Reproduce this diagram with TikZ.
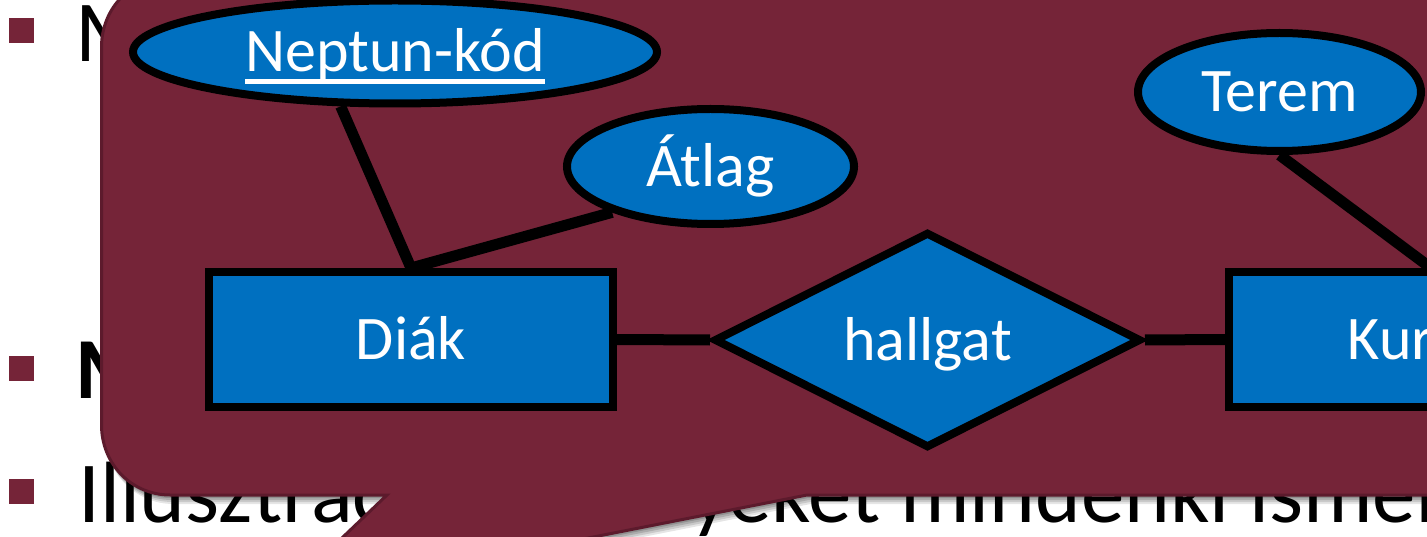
\documentclass[tikz,border=0pt]{standalone}
\usepackage{fontspec}
\setmainfont{Carlito}
\usetikzlibrary{shapes.geometric,shadows}
\definecolor{wine}{RGB}{117,36,56}
\definecolor{wineedge}{RGB}{92,26,44}
\definecolor{erblue}{RGB}{0,112,192}
\pgfdeclarelayer{back}
\pgfdeclarelayer{conn}
\pgfsetlayers{back,conn,main}
% thick underline for key attributes
\newcommand\keyul[1]{\setbox0\hbox{#1}\rlap{\rule[-12pt]{\wd0}{4.5pt}}\box0}
\tikzset{
  erbase/.style={draw=black, line width=8pt, fill=erblue, text=white,
    font=\fontsize{62pt}{70pt}\selectfont, inner sep=0pt,
    text height=46pt, text depth=6pt,
    drop shadow={shadow xshift=2pt, shadow yshift=-3pt, opacity=0.3, fill=black}},
  attr/.style={erbase, ellipse},
  entity/.style={erbase, rectangle, minimum width=404pt, minimum height=135pt},
  rel/.style={erbase, diamond, aspect=2, minimum width=427pt, minimum height=216pt},
  link/.style={line width=11pt, black},
  slidetext/.style={anchor=base west, inner sep=0pt, text=black,
    font=\fontsize{87pt}{100pt}\selectfont},
  bullet/.style={fill=wine},
  calloutpath/.style={insert path={
    (387,495) -- (170,495) .. controls (131.3,495) and (101.5,463.7) .. (101.5,425)
    -- (101.5,47) .. controls (101.5,8.3) and (131.3,-23) .. (170,-23)
    -- (1500,-23) -- (1500,495) -- (807,495) -- (278,599) -- cycle}}
}
\begin{document}
\begin{tikzpicture}[x=1pt,y=-1pt]
\useasboundingbox (0,0) rectangle (1427,537);
\clip (0,0) rectangle (1427,537);

\begin{pgfonlayer}{back}
  \fill[white] (0,0) rectangle (1427,537);
  % slide bullets and text behind the callout
  \fill[bullet] (9,18) rectangle (34,43);
  \fill[bullet] (9,356) rectangle (34,381);
  \fill[bullet] (9,479) rectangle (34,504);
  \node[slidetext] (t1) at (75,62) {M};
  \node[slidetext, font=\fontsize{87pt}{100pt}\selectfont\bfseries] (t2) at (75,398) {M};
  \node[slidetext] (t3) at (78,522) {Illusztrác};
  \node[slidetext] (t4) at (690,522) {yeket mindenki ismer};
  % soft shadow of the callout
  \foreach \s/\o in {9/0.10,7/0.12,5/0.14,3/0.16}
    \fill[black, opacity=\o, shift={(\s*0.4,\s)}] [calloutpath];
  % callout
  \path[fill=wine, draw=wineedge, line width=3pt] [calloutpath];
\end{pgfonlayer}

% ER diagram
\node[attr, minimum width=524pt, minimum height=103pt] (nep) at (395,52) {\keyul{Neptun-kód}};
\node[attr, minimum width=287pt, minimum height=115pt] (atl) at (710.5,166.5) {Átlag};
\node[attr, minimum width=283pt, minimum height=118pt] (ter) at (1279.5,92) {Terem};
\node[entity] (diak) at (411,339.5) {Diák};
\node[rel] (hal) at (927.5,340) {hallgat};
\node[entity] (kur) at (1431,339.5) {Kurzus};

\begin{pgfonlayer}{conn}
  \draw[link] (nep.225) -- (diak.north);
  \draw[link] (atl.205) -- (diak.north);
  \draw[link] (ter.south) -- (kur.north);
  \draw[link] (diak.east) -- (hal.west);
  \draw[link] (hal.east) -- (kur.west);
\end{pgfonlayer}
\end{tikzpicture}
\end{document}
